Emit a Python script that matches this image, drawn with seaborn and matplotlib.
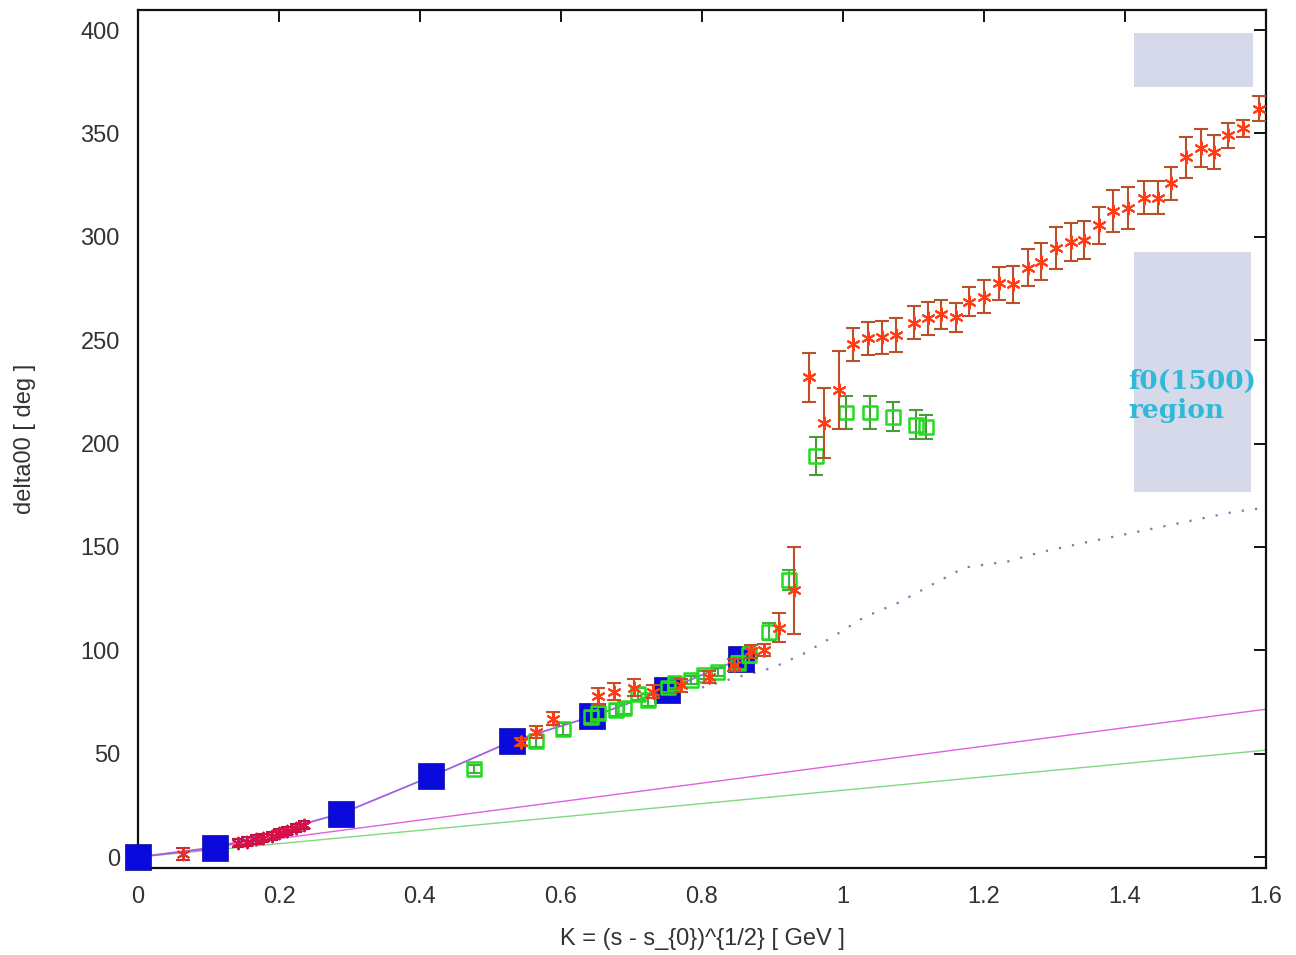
import numpy as np
import pandas as pd
import matplotlib
matplotlib.use("Agg")
import matplotlib.pyplot as plt
import seaborn as sns
from matplotlib.patches import Rectangle

# ---------------- data ----------------
blue_k = [0.0, 0.109, 0.288, 0.416, 0.530, 0.644, 0.750, 0.856]
blue_v = [0.0, 4.4, 21.0, 39.0, 56.0, 68.0, 81.0, 96.0]

first_k = [0.064]
first_v = [1.5]
first_e = [3.0]

crim_k = [0.142, 0.155, 0.167, 0.178, 0.190, 0.200, 0.212, 0.224, 0.236]
crim_v = [6.8, 7.5, 8.5, 9.2, 10.2, 11.5, 12.5, 14.0, 15.5]
crim_e = [2.0, 2.0, 2.0, 2.0, 2.0, 2.0, 2.0, 2.0, 2.0]

orm_k = [0.543, 0.565, 0.589, 0.652, 0.675, 0.704, 0.730, 0.770, 0.810, 0.845, 0.870, 0.888, 0.909, 0.930]
orm_v = [55.6, 60.5, 67.0, 78.0, 80.0, 82.0, 80.0, 83.0, 87.0, 93.0, 99.5, 100.0, 111.0, 129.0]
orm_e = [2.0, 3.0, 3.0, 4.0, 4.0, 4.0, 3.0, 3.0, 3.0, 3.0, 3.0, 3.0, 7.0, 21.0]

orh_k = [0.952, 0.973, 0.994, 1.014, 1.035, 1.056, 1.075, 1.100, 1.120, 1.139, 1.160,
         1.179, 1.200, 1.221, 1.241, 1.262, 1.281, 1.302, 1.323, 1.342, 1.363, 1.383,
         1.404, 1.427, 1.447, 1.465, 1.487, 1.508, 1.526, 1.546, 1.567, 1.590]
orh_v = [232.0, 210.0, 226.0, 248.0, 251.0, 251.5, 252.5, 258.5, 260.5, 262.5, 261.0,
         268.5, 271.0, 277.5, 277.0, 285.0, 288.0, 294.5, 297.5, 298.5, 305.5, 312.5,
         314.0, 319.0, 319.0, 326.0, 338.5, 343.0, 341.0, 349.0, 352.5, 362.0]
orh_e = [12.0, 17.0, 19.0, 8.0, 8.0, 8.0, 8.0, 8.0, 8.0, 7.0, 7.0,
         7.0, 8.0, 8.0, 9.0, 9.0, 9.0, 10.0, 9.0, 9.0, 9.0, 10.0,
         10.0, 8.0, 8.0, 8.0, 10.0, 9.0, 8.0, 6.0, 4.0, 6.0]

grm_k = [0.477, 0.565, 0.603, 0.643, 0.652, 0.678, 0.690, 0.709, 0.723, 0.752, 0.761,
         0.784, 0.803, 0.822, 0.851, 0.867, 0.895, 0.923]
grm_v = [42.5, 56.0, 62.0, 67.7, 69.6, 71.0, 72.0, 79.0, 76.0, 82.0, 84.0,
         85.6, 88.0, 89.5, 94.0, 97.7, 109.0, 134.0]
grm_e = [2.0, 3.0, 3.0, 3.0, 3.0, 3.0, 3.0, 3.0, 3.0, 2.0, 2.0,
         2.0, 2.0, 2.0, 3.0, 4.0, 4.0, 5.0]

grh_k = [0.962, 1.004, 1.038, 1.071, 1.104, 1.118]
grh_v = [194.0, 215.0, 215.0, 213.0, 209.0, 208.0]
grh_e = [9.0, 8.0, 8.0, 7.0, 7.0, 6.0]

dot_k = [0.80, 0.85, 0.90, 0.945, 0.983, 1.03, 1.078, 1.125, 1.172, 1.234, 1.281,
         1.342, 1.413, 1.484, 1.555, 1.60]
dot_v = [82.0, 87.0, 91.5, 98.5, 106.0, 116.0, 123.0, 131.5, 140.0, 143.0, 147.5,
         152.0, 157.0, 162.0, 167.0, 169.0]

line_k = [0.0, 1.6]
mag_v = [0.0, 71.5]
grn_v = [0.0, 51.7]

region_text = "f0(1500)\nregion"
xlabel = "K = (s - s_{0})^{1/2} [ GeV ]"
ylabel = "delta00 [ deg ]"
xticks = [0, 0.2, 0.4, 0.6, 0.8, 1.0, 1.2, 1.4, 1.6]
xticklabels = ["0", "0.2", "0.4", "0.6", "0.8", "1", "1.2", "1.4", "1.6"]
yticks = [0, 50, 100, 150, 200, 250, 300, 350, 400]

# ---------------- style ----------------
sns.set_style("white")
plt.rcParams["font.family"] = ["Liberation Sans", "DejaVu Sans"]

fig = plt.figure(figsize=(12.96, 9.55), dpi=100)
ax = fig.add_axes([138 / 1296, 1 - 868 / 955, (1266 - 138) / 1296, (868 - 10) / 955])

# shaded region boxes
ax.add_patch(Rectangle((1.413, 372.5), 0.169, 26.0, facecolor="#d6d9ea", edgecolor="none", zorder=0))
ax.add_patch(Rectangle((1.413, 176.5), 0.166, 116.0, facecolor="#d6d9ea", edgecolor="none", zorder=0))
ax.text(1.405, 223, region_text, color="#2fb8d8", fontsize=19, fontweight="bold",
        family=["DejaVu Serif"], ha="left", va="center", linespacing=1.25, zorder=1)

# straight lines
sns.lineplot(x=line_k, y=mag_v, ax=ax, color="#e060e0", lw=1.0, zorder=2)
sns.lineplot(x=line_k, y=grn_v, ax=ax, color="#80d880", lw=1.0, zorder=2)
# dotted curve
sns.lineplot(x=dot_k, y=dot_v, ax=ax, color="#8078b0", lw=1.6, linestyle=(0, (1, 5)), zorder=2)

# blue squares + connecting line
sns.lineplot(x=blue_k, y=blue_v, ax=ax, color="#a060e0", lw=1.3, zorder=3, sort=False)
sns.scatterplot(x=blue_k, y=blue_v, ax=ax, marker="s", s=360, color="#0a0adc",
                edgecolor="#0a0a90", linewidth=0.5, zorder=4, clip_on=False)

# error bar series
def eb(k, v, e, ecol, mcol, marker, ms, capsize=5, z=5):
    ax.errorbar(k, v, yerr=e, fmt="none", ecolor=ecol, elinewidth=1.5,
                capsize=capsize, capthick=1.5, zorder=z)
    if marker == "s":
        sns.scatterplot(x=k, y=v, ax=ax, marker="s", s=ms, facecolor="none",
                        edgecolor=mcol, linewidth=1.8, zorder=z + 1)
    else:
        sns.scatterplot(x=k, y=v, ax=ax, marker=(6, 2, 0), s=ms, color=mcol,
                        linewidth=1.5, zorder=z + 1)

eb(first_k, first_v, first_e, "#c83030", "#e03030", "*", 70, capsize=5)
eb(crim_k, crim_v, crim_e, "#c01040", "#d81048", "*", 70, capsize=4)
eb(grm_k, grm_v, grm_e, "#40b040", "#20dd20", "s", 100, capsize=5, z=5)
eb(orm_k, orm_v, orm_e, "#c0502a", "#ff3c14", "*", 80, capsize=5, z=7)
eb(grh_k, grh_v, grh_e, "#4a9a3a", "#20dd20", "s", 100, capsize=5, z=5)
eb(orh_k, orh_v, orh_e, "#b8502a", "#ff3c14", "*", 80, capsize=5, z=7)

# axes
ax.set_xlim(0, 1.6)
ax.set_ylim(-5.3, 409.7)
ax.set_xticks(xticks)
ax.set_xticklabels(xticklabels)
ax.set_yticks(yticks)
for s in ax.spines.values():
    s.set_visible(True)
    s.set_linewidth(1.6)
    s.set_color("#111111")
ax.tick_params(axis="both", direction="in", length=8.5, width=1.4, color="#111111",
               labelsize=17, labelcolor="#333333", top=True, right=True)
ax.tick_params(axis="y", pad=13)
ax.tick_params(axis="x", pad=13)
ax.set_xlabel(xlabel, fontsize=17, color="#333333", labelpad=14)
ax.set_ylabel(ylabel, fontsize=17, color="#333333", labelpad=32)
ax.grid(False)

fig.savefig("out.png", dpi=100)
